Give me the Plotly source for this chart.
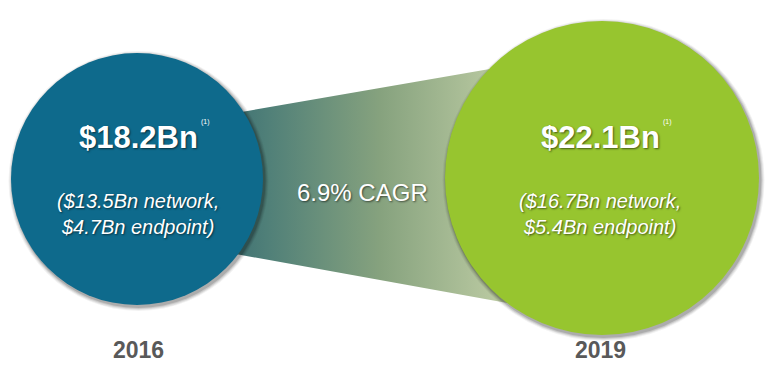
import plotly.graph_objects as go

# ---- data ----
years = ["2016", "2019"]
totals = [18.2, 22.1]          # $Bn
network = [13.5, 16.7]         # $Bn
endpoint = [4.7, 5.4]          # $Bn
cagr = 6.9                     # %
footnote = "(1)"

# ---- layout constants (pixels in a 766x366 canvas) ----
W, H = 766, 366
centers_x = [137, 602]
centers_y = [179, 178]
radii = [126, 157]
circle_colors = ["#0e6a8c", "#97c52f"]
label_x = [138, 600]
year_y = 350

fig = go.Figure()

# gradient band between the circles (CAGR connector)
band_x = [230, 530, 530, 230, 230]
band_y = [114, 62, 307, 253, 114]
fig.add_trace(go.Scatter(
    x=band_x, y=band_y, mode="lines", fill="toself",
    line=dict(width=0),
    fillgradient=dict(type="horizontal",
                      colorscale=[[0, "#3f7173"], [0.12, "#4f7f78"],
                                  [0.5, "#86a27e"], [0.88, "#b8c8a0"],
                                  [1, "#c6d4ae"]]),
    hoverinfo="skip", showlegend=False))

shapes = []
for cx, cy, r, col in zip(centers_x, centers_y, radii, circle_colors):
    # soft shadow
    for k, a in [(4, 0.05), (3, 0.07), (2, 0.10), (1, 0.14)]:
        shapes.append(dict(type="circle", xref="x", yref="y", layer="above",
                           x0=cx - r - k + 1.5, x1=cx + r + k + 1.5,
                           y0=cy - r - k + 2, y1=cy + r + k + 2,
                           fillcolor=f"rgba(0,0,0,{a})", line=dict(width=0)))
    shapes.append(dict(type="circle", xref="x", yref="y", layer="above",
                       x0=cx - r, x1=cx + r, y0=cy - r, y1=cy + r,
                       fillcolor=col, line=dict(width=0)))

shadow = "1px 1px 2px rgba(0,0,0,0.55)"
ann = []
for i in range(2):
    ann.append(dict(x=label_x[i], y=137, xref="x", yref="y",
                    text=f"<b>${totals[i]:.1f}Bn</b>", showarrow=False,
                    font=dict(family="Liberation Sans, Arial", size=31,
                              color="white", shadow=shadow)))
    ann.append(dict(x=label_x[i] + 67, y=122, xref="x", yref="y",
                    text=footnote, showarrow=False,
                    font=dict(family="Liberation Sans, Arial", size=7,
                              color="white")))
    ann.append(dict(x=label_x[i], y=214, xref="x", yref="y",
                    text=f"<i>(${network[i]:.1f}Bn network,<br>${endpoint[i]:.1f}Bn endpoint)</i>",
                    showarrow=False,
                    font=dict(family="Liberation Sans, Arial", size=20,
                              color="white", shadow=shadow)))
    ann.append(dict(x=label_x[i], y=year_y, xref="x", yref="y",
                    text=f"<b>{years[i]}</b>", showarrow=False,
                    font=dict(family="Liberation Sans, Arial", size=23,
                              color="#595959")))

ann.append(dict(x=362, y=192, xref="x", yref="y",
                text=f"{cagr:.1f}% CAGR", showarrow=False,
                font=dict(family="Liberation Sans, Arial", size=24,
                          color="white", shadow=shadow)))

fig.update_layout(
    width=W, height=H, autosize=False,
    margin=dict(l=0, r=0, t=0, b=0),
    paper_bgcolor="white", plot_bgcolor="white",
    xaxis=dict(range=[0, W], visible=False, fixedrange=True),
    yaxis=dict(range=[H, 0], visible=False, fixedrange=True),
    shapes=shapes, annotations=ann, showlegend=False,
)

fig.write_html("out.html", config={"displayModeBar": False},
               post_script="document.body.style.margin='0';document.body.style.overflow='hidden';")
